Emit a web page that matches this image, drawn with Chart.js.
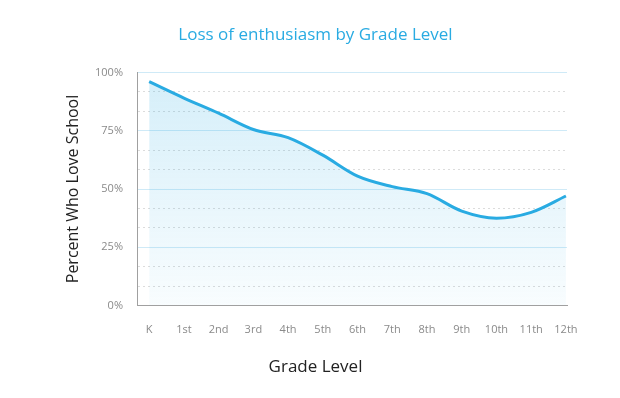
<!DOCTYPE html>
<html>
<head>
<meta charset="utf-8">
<script src="https://cdn.jsdelivr.net/npm/chart.js@4/dist/chart.umd.min.js"></script>
<style>
  html, body { margin: 0; padding: 0; background: #fff; }
  #wrap { width: 620px; height: 398px; }
</style>
</head>
<body>
<div id="wrap"><canvas id="gradeChart" width="620" height="398"></canvas></div>
<script>
const grades = ['K', '1st', '2nd', '3rd', '4th', '5th', '6th', '7th', '8th', '9th', '10th', '11th', '12th'];
const lovePercent = [96, 89, 82.5, 75.5, 72, 64.5, 55.5, 51, 48, 40.5, 37.5, 40, 47];
const yTicks = [0, 25, 50, 75, 100];

document.addEventListener('DOMContentLoaded', () => {
    const ctx = document.getElementById('gradeChart').getContext('2d');
    const font = "'Open Sans', sans-serif";

    const points = lovePercent.map((v, i) => ({ x: i, y: v }));
    const isMajor = (v) => {
        const r = Math.round(v);
        return yTicks.includes(r) && Math.abs(v - r) < 0.01;
    };

    const chart = new Chart(ctx, {
        type: 'line',
        data: {
            datasets: [{
                label: 'Percent Who Love School',
                data: points,
                borderColor: '#29abe2',
                borderWidth: 3,
                pointRadius: 0,
                tension: 0.4,
                cubicInterpolationMode: 'monotone',
                fill: 'origin',
                backgroundColor: (c) => {
                    const area = c.chart.chartArea;
                    if (!area) return 'rgba(41,171,226,0.15)';
                    const g = c.chart.ctx.createLinearGradient(0, area.top, 0, area.bottom);
                    g.addColorStop(0, 'rgba(41,171,226,0.2)');
                    g.addColorStop(1, 'rgba(41,171,226,0.03)');
                    return g;
                }
            }]
        },
        options: {
            responsive: false,
            animation: false,
            layout: { padding: { left: 64, right: 53, top: 0, bottom: 0 } },
            plugins: {
                legend: { display: false },
                tooltip: { enabled: false },
                title: {
                    display: true,
                    text: 'Loss of enthusiasm by Grade Level',
                    color: '#29abe2',
                    font: { family: font, size: 17, weight: 'normal' },
                    padding: { top: 25, bottom: 27 }
                },
                // x axis title, centred on the page like the reference
                subtitle: {
                    display: true,
                    position: 'bottom',
                    text: 'Grade Level',
                    color: '#222',
                    font: { family: font, size: 17, weight: 'normal' },
                    padding: { top: 4, bottom: 21 }
                }
            },
            scales: {
                x: {
                    type: 'linear',
                    min: -0.35,
                    max: 12.03,
                    afterBuildTicks: (scale) => {
                        scale.ticks = grades.map((g, i) => ({ value: i }));
                    },
                    afterFit: (scale) => { scale.height = 47; },
                    ticks: {
                        color: '#8a8a8a',
                        font: { family: font, size: 11 },
                        padding: 18,
                        maxRotation: 0,
                        autoSkip: false,
                        callback: (v) => grades[v]
                    },
                    grid: { display: false, drawTicks: false },
                    border: { display: true, color: '#a0a0a0', width: 1 }
                },
                y: {
                    min: 0,
                    max: 100,
                    afterBuildTicks: (scale) => {
                        const t = [];
                        for (let i = 0; i <= 12; i++) t.push({ value: i * 100 / 12 });
                        scale.ticks = t;
                    },
                    afterFit: (scale) => { scale.width = 73; },
                    ticks: {
                        color: '#8a8a8a',
                        font: { family: font, size: 11 },
                        padding: 14,
                        callback: (v) => isMajor(v) ? Math.round(v) + '%' : ''
                    },
                    grid: {
                        drawTicks: false,
                        lineWidth: 1,
                        color: (c) => {
                            if (!c.tick) return '#ddd';
                            return isMajor(c.tick.value) ? '#cfeaf7' : '#dcdcdc';
                        }
                    },
                    border: {
                        display: true,
                        color: '#a0a0a0',
                        width: 1,
                        dash: (c) => {
                            if (!c.tick) return [];
                            return isMajor(c.tick.value) ? [] : [2, 3];
                        }
                    },
                    title: {
                        display: true,
                        text: 'Percent Who Love School',
                        color: '#222',
                        font: { family: font, size: 16 },
                        padding: { top: 0, bottom: 0 }
                    }
                }
            }
        }
    });
});
</script>
</body>
</html>
